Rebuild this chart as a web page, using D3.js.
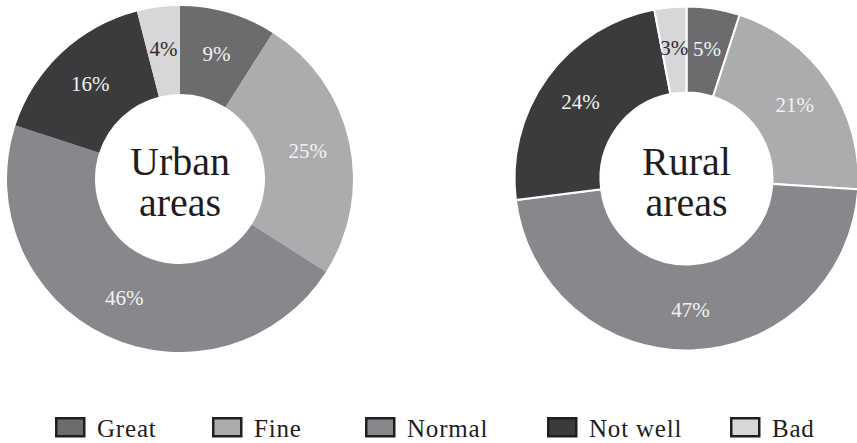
<!DOCTYPE html>
<html>
<head>
<meta charset="utf-8">
<script src="https://cdn.jsdelivr.net/npm/d3@7"></script>
<style>
  html, body { margin: 0; padding: 0; background: #ffffff; }
  svg { display: block; }
</style>
</head>
<body>
<svg id="chart" width="857" height="443"></svg>
<script>
// ---- data ----
const categories = ["Great", "Fine", "Normal", "Not well", "Bad"];
const urbanValues = [9, 25, 46, 16, 4];
const ruralValues = [5, 21, 47, 24, 3];
const chartTitles = [["Urban", "areas"], ["Rural", "areas"]];
const colors = ["#6c6c6f", "#acacaf", "#88888c", "#3b3b3d", "#d7d7d9"];
const labelColors = ["#f2f2f2", "#f2f2f2", "#f2f2f2", "#f2f2f2", "#2b2b2b"];

const FONT = "'Liberation Serif', 'DejaVu Serif', serif";
const svg = d3.select("#chart");

const donuts = [
  { values: urbanValues, title: chartTitles[0], cx: 180, cy: 179, r: 173, inner: 85, stroke: "none" },
  { values: ruralValues, title: chartTitles[1], cx: 686.5, cy: 178.5, r: 172, inner: 86, stroke: "#ffffff" }
];

const pie = d3.pie().sort(null).value(d => d.value);
const colorScale = d3.scaleOrdinal().domain(categories).range(colors);
const labelColorScale = d3.scaleOrdinal().domain(categories).range(labelColors);

donuts.forEach(dn => {
  const data = categories.map((c, i) => ({ cat: c, value: dn.values[i] }));
  const arcs = pie(data);
  const arc = d3.arc().innerRadius(dn.inner).outerRadius(dn.r);
  const labelArc = d3.arc().innerRadius(131).outerRadius(131);
  const g = svg.append("g").attr("transform", `translate(${dn.cx},${dn.cy})`);

  g.selectAll("path.slice").data(arcs).join("path")
    .attr("class", "slice")
    .attr("d", arc)
    .attr("fill", d => colorScale(d.data.cat))
    .attr("stroke", dn.stroke)
    .attr("stroke-width", dn.stroke === "none" ? 0 : 2);

  g.selectAll("text.lbl").data(arcs).join("text")
    .attr("class", "lbl")
    .attr("transform", d => `translate(${labelArc.centroid(d)})`)
    .attr("text-anchor", "middle")
    .attr("dy", "0.35em")
    .attr("font-family", FONT)
    .attr("font-size", 21)
    .attr("fill", d => labelColorScale(d.data.cat))
    .text(d => d.data.value + "%");

  const title = g.append("text")
    .attr("text-anchor", "middle")
    .attr("font-family", FONT)
    .attr("font-size", 40)
    .attr("fill", "#1e1e1e");
  title.append("tspan").attr("x", 0).attr("y", -4).text(dn.title[0]);
  title.append("tspan").attr("x", 0).attr("y", 37).text(dn.title[1]);
});

// ---- legend ----
const legendX = [55, 212, 365, 547, 730];
const legend = svg.append("g");
const items = legend.selectAll("g.item").data(categories).join("g")
  .attr("class", "item")
  .attr("transform", (d, i) => `translate(${legendX[i]},417)`);
items.append("rect")
  .attr("x", 1.25).attr("y", 1.25)
  .attr("width", 28).attr("height", 18)
  .attr("fill", d => colorScale(d))
  .attr("stroke", "#1f1f1f")
  .attr("stroke-width", 2.5);
items.append("text")
  .attr("x", 42)
  .attr("y", 20)
  .attr("font-family", FONT)
  .attr("font-size", 25)
  .attr("letter-spacing", 0.8)
  .attr("fill", "#1e1e1e")
  .text(d => d);
</script>
</body>
</html>
